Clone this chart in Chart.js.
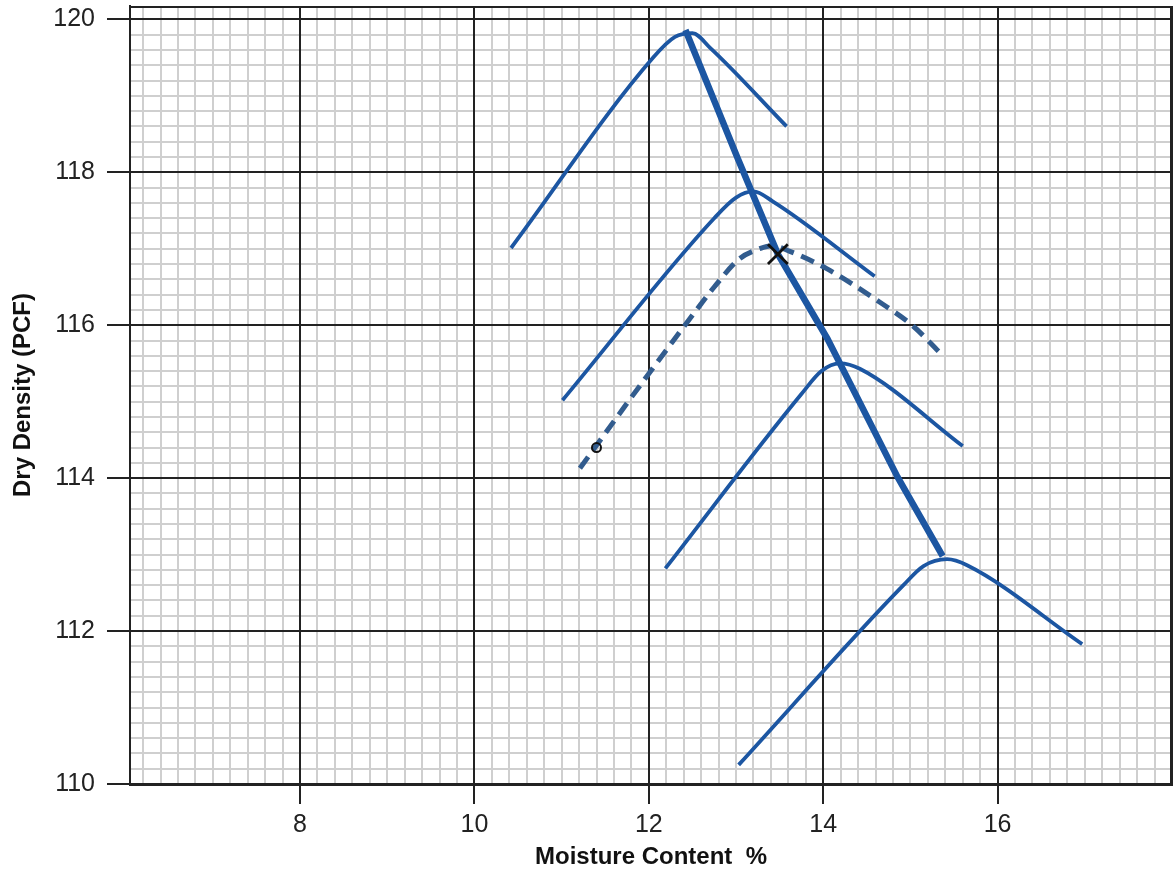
<!DOCTYPE html>
<html>
<head>
<meta charset="utf-8">
<title>Moisture-Density Curves</title>
<script src="https://cdn.jsdelivr.net/npm/chart.js@4.4.1/dist/chart.umd.min.js"></script>
<style>
  html, body { margin: 0; padding: 0; background: #fff; }
  #wrap { width: 1173px; height: 876px; }
</style>
</head>
<body>
<div id="wrap"><canvas id="chart"></canvas></div>
<script>
// tick labels on the graph paper
const xTickLabels = [8, 10, 12, 14, 16];
const yTickLabels = [110, 112, 114, 116, 118, 120];

// compaction curves (moisture %, dry density pcf)
const curve1X = [10.42, 12.05, 12.3, 12.5, 12.7, 13.58];
const curve1Y = [117.01, 119.5, 119.77, 119.82, 119.63, 118.6];

const curve2X = [11.01, 12.75, 13.0, 13.2, 13.42, 14.59];
const curve2Y = [115.02, 117.4, 117.67, 117.75, 117.62, 116.64];

const dashedX = [11.21, 11.95, 12.58, 12.75, 13.04, 13.27, 13.41, 13.61, 14.04, 14.65, 15.03, 15.33];
const dashedY = [114.13, 115.29, 116.25, 116.5, 116.87, 117.0, 117.04, 116.97, 116.74, 116.3, 115.99, 115.65];

const curve4X = [12.19, 13.75, 13.98, 14.19, 14.42, 15.6];
const curve4Y = [112.82, 115.1, 115.4, 115.5, 115.43, 114.42];

const curve5X = [13.03, 14.92, 15.15, 15.42, 15.65, 16.97];
const curve5Y = [110.25, 112.6, 112.85, 112.94, 112.86, 111.83];

// line of optimums
const optimumX = [12.42, 13.02, 13.48, 14.05, 14.85, 15.37];
const optimumY = [119.86, 118.18, 116.93, 115.82, 114.02, 112.98];

// marked points
const crossPoint = [13.48, 116.93];
const circlePoint = [11.4, 114.4];

const X_MIN = 6.05, X_MAX = 18;
const Y_MIN = 110, Y_MAX = 120.175;

const BLUE = '#1c56a2';
const SLATE = '#325c8e';
const DARK = '#222';
const FONT = '"Liberation Sans", Arial, Helvetica, sans-serif';

const toPoints = (xs, ys) => xs.map((x, i) => ({ x: x, y: ys[i] }));
const round1 = v => Math.round(v * 10) / 10;
const isMajor = v => Math.abs(v / 2 - Math.round(v / 2)) < 1e-6;

const paperTicks = (from, to) => {
    const out = [];
    for (let v = from; v <= to + 1e-9; v += 0.2) out.push({ value: round1(v) });
    return out;
};

// minor lines only here, the dark ones go on top in the plugin below
const gridFor = (labels, tickLength) => ({
    color: ctx => isMajor(ctx.tick.value) ? 'rgba(0,0,0,0)' : '#cfcfcf',
    lineWidth: 2,
    tickColor: ctx => labels.includes(round1(ctx.tick.value)) ? DARK : 'rgba(0,0,0,0)',
    tickWidth: 2,
    tickLength: tickLength,
    drawTicks: true
});

const noScalePadding = scale => {
    scale.paddingTop = 0;
    scale.paddingBottom = 0;
    scale.paddingLeft = 0;
    scale.paddingRight = 0;
};

const majorGrid = {
    id: 'majorGrid',
    beforeDatasetsDraw(chart) {
        const { ctx, chartArea: a, scales: { x, y } } = chart;
        ctx.save();
        ctx.strokeStyle = DARK;
        ctx.lineWidth = 2;
        ctx.beginPath();
        x.ticks.filter(t => isMajor(t.value)).forEach(t => {
            const px = Math.round(x.getPixelForValue(t.value));
            ctx.moveTo(px, a.top);
            ctx.lineTo(px, a.bottom);
        });
        y.ticks.filter(t => isMajor(t.value)).forEach(t => {
            const py = Math.round(y.getPixelForValue(t.value));
            ctx.moveTo(a.left, py);
            ctx.lineTo(a.right, py);
        });
        // frame top and right
        ctx.moveTo(a.left, a.top + 1);
        ctx.lineTo(a.right - 1, a.top + 1);
        ctx.lineTo(a.right - 1, a.bottom);
        ctx.stroke();
        ctx.restore();
    }
};

const curveSet = (xs, ys, extra) => Object.assign({
    data: toPoints(xs, ys),
    showLine: true,
    borderColor: BLUE,
    backgroundColor: BLUE,
    borderWidth: 3.8,
    pointRadius: 0,
    cubicInterpolationMode: 'monotone',
    borderCapStyle: 'butt',
    borderJoinStyle: 'round'
}, extra || {});

new Chart(document.getElementById('chart'), {
    type: 'scatter',
    data: {
        datasets: [
            {
                data: [{ x: crossPoint[0], y: crossPoint[1] }],
                pointStyle: 'crossRot',
                pointRadius: 14,
                borderColor: '#111',
                borderWidth: 2.8
            },
            {
                data: [{ x: circlePoint[0], y: circlePoint[1] }],
                pointStyle: 'circle',
                pointRadius: 4.5,
                borderColor: '#111',
                backgroundColor: 'rgba(0,0,0,0)',
                borderWidth: 2
            },
            curveSet(optimumX, optimumY, { borderWidth: 6.5, cubicInterpolationMode: 'default', tension: 0 }),
            curveSet(dashedX, dashedY, { borderColor: SLATE, borderWidth: 5, borderDash: [14, 8] }),
            curveSet(curve1X, curve1Y),
            curveSet(curve2X, curve2Y),
            curveSet(curve4X, curve4Y),
            curveSet(curve5X, curve5Y)
        ]
    },
    plugins: [majorGrid],
    options: {
        responsive: true,
        maintainAspectRatio: false,
        animation: false,
        layout: { autoPadding: false, padding: { top: 6, right: 1, left: 0, bottom: 0 } },
        plugins: {
            legend: { display: false },
            tooltip: { enabled: false }
        },
        scales: {
            x: {
                type: 'linear',
                min: X_MIN,
                max: X_MAX,
                afterBuildTicks: scale => { scale.ticks = paperTicks(6.2, 18); },
                afterFit: scale => { scale.height = 92; noScalePadding(scale); },
                grid: gridFor(xTickLabels, 20),
                border: { display: true, color: DARK, width: 3 },
                ticks: {
                    autoSkip: false,
                    maxRotation: 0,
                    padding: 6,
                    color: DARK,
                    font: { family: FONT, size: 25 },
                    callback: v => xTickLabels.includes(round1(v)) ? String(round1(v)) : ''
                },
                title: {
                    display: true,
                    text: 'Moisture Content  %',
                    color: '#111',
                    font: { family: FONT, size: 24, weight: 'bold' },
                    padding: { top: 0, bottom: 4 }
                }
            },
            y: {
                type: 'linear',
                min: Y_MIN,
                max: Y_MAX,
                afterBuildTicks: scale => { scale.ticks = paperTicks(110, 120); },
                afterFit: scale => { scale.width = 130; noScalePadding(scale); },
                grid: gridFor(yTickLabels, 23),
                border: { display: true, color: DARK, width: 2 },
                ticks: {
                    autoSkip: false,
                    padding: 12,
                    color: DARK,
                    font: { family: FONT, size: 25 },
                    callback: v => yTickLabels.includes(round1(v)) ? String(round1(v)) : ''
                },
                title: {
                    display: true,
                    text: 'Dry Density (PCF)',
                    color: '#111',
                    font: { family: FONT, size: 24, weight: 'bold' },
                    padding: { top: 9, bottom: 0 }
                }
            }
        }
    }
});
</script>
</body>
</html>
